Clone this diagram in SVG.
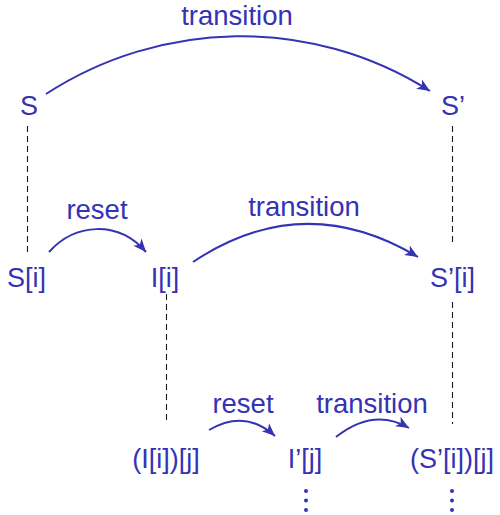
<svg xmlns="http://www.w3.org/2000/svg" width="500" height="515" viewBox="0 0 500 515">
<style>
.t{font-family:"Liberation Sans","DejaVu Sans",sans-serif;font-size:27px;fill:#3333b3}
.l{font-family:"Liberation Sans","DejaVu Sans",sans-serif;font-size:27.5px;fill:#3333b3;text-anchor:middle}
.m{text-anchor:middle}
.a{fill:none;stroke:#3333b3;stroke-width:2}
.d{stroke:#1a1a1a;stroke-width:1.1;stroke-dasharray:6,4;fill:none}
.dot{fill:#3333b3}
</style>
<defs>
<marker id="ah" markerUnits="userSpaceOnUse" markerWidth="16" markerHeight="14" viewBox="-14 -7 16 14" refX="0" refY="0" orient="auto">
<path d="M0,0 L-13,-5.5 L-9.5,0 L-13,5.5 Z" fill="#3333b3"/>
</marker>
</defs>
<g id="connectors">
<line class="d" x1="27.5" y1="126" x2="27.5" y2="252"/>
<line class="d" x1="452.5" y1="126" x2="452.5" y2="246"/>
<line class="d" x1="452.5" y1="302" x2="452.5" y2="424"/>
<line class="d" x1="166.5" y1="294" x2="166.5" y2="424"/>
<path class="a" d="M46,94 C160,20 310,15 430,91" marker-end="url(#ah)"/>
<path class="a" d="M49,252 C75,223 118,220 146,252" marker-end="url(#ah)"/>
<path class="a" d="M193,262 C268,212 343,212 418,257" marker-end="url(#ah)"/>
<path class="a" d="M209,430 C231,417 253,416 275,436" marker-end="url(#ah)"/>
<path class="a" d="M336,437 C360,418 385,414 409,428" marker-end="url(#ah)"/>
<text class="l" x="237" y="25">transition</text>
<text class="l" x="97" y="219">reset</text>
<text class="l" x="304" y="216">transition</text>
<text class="l" x="243" y="413">reset</text>
<text class="l" x="372" y="413">transition</text>
</g>
<g id="S"><text class="t" x="20" y="115">S</text></g>
<g id="Sp"><text class="t" x="441" y="115">S’</text></g>
<g id="Si"><text class="t" x="7" y="287">S[i]</text></g>
<g id="Ii"><text class="t m" x="165" y="287">I[i]</text></g>
<g id="Spi"><text class="t" x="430" y="287">S’[i]</text></g>
<g id="Iij"><text class="t m" x="166" y="468">(I[i])[j]</text></g>
<g id="Ipj"><text class="t m" x="305" y="468">I’[j]</text></g>
<g id="Spij"><text class="t m" x="452" y="468">(S’[i])[j]</text></g>
<g id="dots1"><circle class="dot" cx="306" cy="491" r="2"/><circle class="dot" cx="306" cy="500.5" r="2"/><circle class="dot" cx="306" cy="510" r="2"/></g>
<g id="dots2"><circle class="dot" cx="452" cy="491" r="2"/><circle class="dot" cx="452" cy="500.5" r="2"/><circle class="dot" cx="452" cy="510" r="2"/></g>
</svg>
